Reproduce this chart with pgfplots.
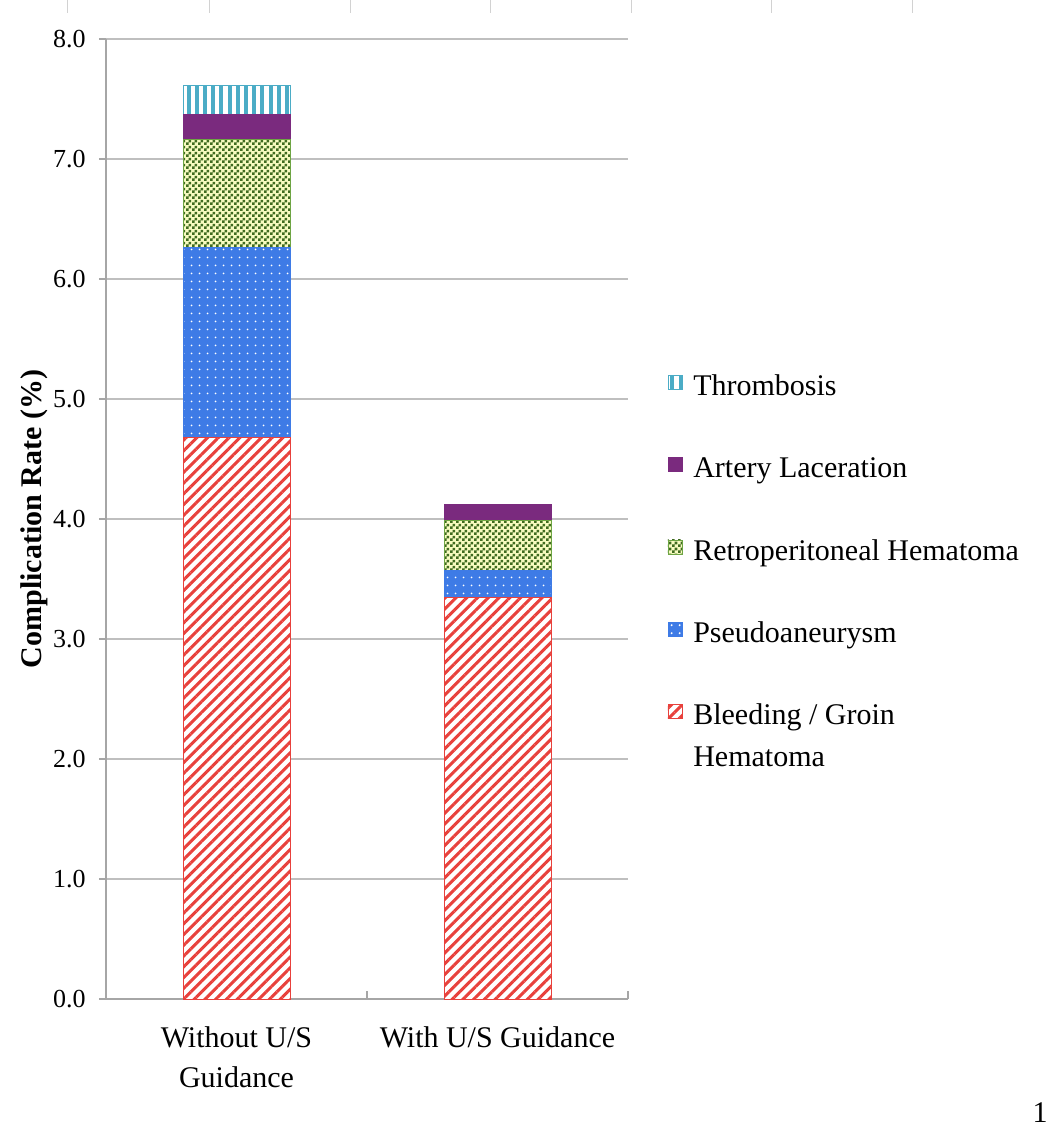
\documentclass[border=0pt]{standalone}
\usepackage{fontspec}
\setmainfont{Liberation Serif}
\usepackage{pgfplots}
\pgfplotsset{compat=1.18}
\usetikzlibrary{patterns,patterns.meta}
\definecolor{thromb}{HTML}{4BACC6}
\definecolor{artery}{HTML}{7A2A7E}
\definecolor{rgreen}{HTML}{3F6B1F}
\definecolor{rborder}{HTML}{6EA543}
\definecolor{ryellow}{HTML}{F8FCC0}
\definecolor{pblue}{HTML}{3E7BE6}
\definecolor{bred}{HTML}{E8413C}
\definecolor{gridgray}{HTML}{BFBFBF}
\definecolor{axgray}{HTML}{A6A6A6}
\pgfdeclarepatternformonly{checks}{\pgfpointorigin}{\pgfqpoint{3pt}{3pt}}{\pgfqpoint{3pt}{3pt}}{%
  \pgfpathrectangle{\pgfpointorigin}{\pgfqpoint{1.5pt}{1.5pt}}%
  \pgfpathrectangle{\pgfqpoint{1.5pt}{1.5pt}}{\pgfqpoint{1.5pt}{1.5pt}}%
  \pgfusepath{fill}}
\pgfplotsset{
  legsq/.style={legend image code/.code={\draw[##1] (0pt,-3.5pt) rectangle (7pt,3.5pt);}},
}
\begin{document}
\begin{tikzpicture}
\path[use as bounding box] (0,0) rectangle (525pt,564.5pt);
\foreach \xx in {33.5,104.5,175,245,315.5,385.5,456}{\draw[gray!35,line width=0.5pt] (\xx pt,564.5pt) -- (\xx pt,558pt);}
\node[anchor=base east,font=\fontsize{15}{18}\selectfont,inner sep=0pt] at (524pt,3pt) {1};
\begin{axis}[
  at={(53pt,65pt)}, anchor=south west,
  scale only axis, width=261pt, height=480pt,
  ybar stacked, bar width=53.5pt,
  xmin=-0.5, xmax=1.5, ymin=0, ymax=8,
  axis lines*=left,
  axis line style={axgray, line width=0.8pt},
  xtick={0,1},
  xticklabels={{Without U/S\\Guidance},{With U/S Guidance}},
  xticklabel style={align=center, font=\fontsize{15}{20}\selectfont, anchor=north, inner sep=0pt, yshift=-10pt},
  major x tick style={draw=none},
  extra x ticks={0.5,1.5}, extra x tick labels={},
  extra x tick style={tick align=inside, major tick length=4pt, major x tick style={draw=axgray, line width=0.8pt}},
  ytick={0,1,...,8},
  tick align=outside,
  major tick length=3.5pt,
  major y tick style={draw=axgray, line width=0.8pt},
  /pgf/number format/assume math mode=true,
  yticklabel style={font=\fontsize{13}{15}\selectfont, inner sep=0pt, xshift=-6.5pt,
    /pgf/number format/fixed, /pgf/number format/fixed zerofill, /pgf/number format/precision=1},
  ymajorgrids, grid style={gridgray, line width=1.2pt},
  ylabel={\textbf{Complication Rate (\%)}},
  ylabel style={font=\fontsize{15}{18}\selectfont, at={(axis description cs:-0.138,0.5)}, anchor=center},
  reverse legend,
  legend cell align=left,
  legend style={at={(axis description cs:1.0634,0.664)}, anchor=north west, draw=none, fill=none,
    font=\fontsize{15}{21}\selectfont, nodes={inner sep=0pt},
    row sep=25pt, column sep=5.5pt},
]
\addplot[legsq, draw=bred, fill=white, postaction={pattern={Lines[angle=45,distance=3.8pt,line width=1.5pt]}, pattern color=bred}]
  coordinates {(0,4.68) (1,3.35)};
\addlegendentry{\strut\makebox[0pt][l]{\raisebox{-21pt}[0pt][0pt]{Hematoma}}Bleeding / Groin}
\addplot[legsq, draw=pblue, fill=pblue, postaction={pattern={Dots[distance=4pt,radius=0.55pt]}, pattern color=white}]
  coordinates {(0,1.58) (1,0.22)};
\addlegendentry{\strut Pseudoaneurysm}
\addplot[legsq, draw=rborder, fill=ryellow, postaction={pattern=checks, pattern color=rgreen}]
  coordinates {(0,0.90) (1,0.42)};
\addlegendentry{\strut Retroperitoneal Hematoma}
\addplot[legsq, draw=artery, fill=artery]
  coordinates {(0,0.21) (1,0.13)};
\addlegendentry{\strut Artery Laceration}
\addplot[legsq, draw=thromb, fill=white, postaction={pattern={Lines[angle=90,distance=4.1pt,line width=2pt]}, pattern color=thromb}]
  coordinates {(0,0.24)};
\addlegendentry{\strut Thrombosis}
\end{axis}
\end{tikzpicture}
\end{document}
